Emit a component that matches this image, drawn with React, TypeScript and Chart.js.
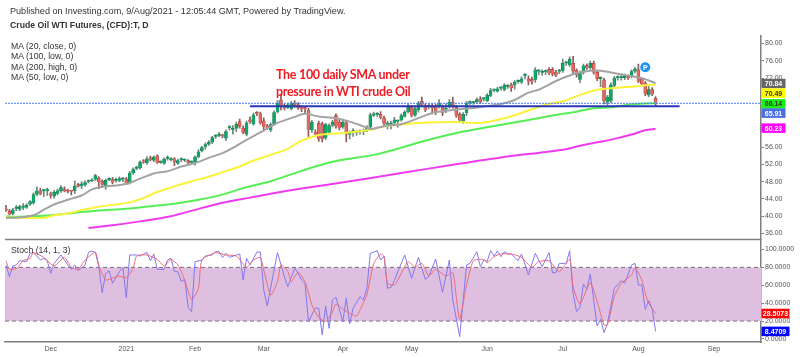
import React, { useEffect, useRef } from "react";
import { Chart, registerables } from "chart.js";

Chart.register(...registerables);

const opens = [
  41.55,41.1,40.5,41.7,41.55,42,42,42.7,43,45,
  45.9,45.8,45.8,45.2,44.6,45.2,45.8,46.3,45.9,45.8,
  45.9,47.3,47,47.2,47.9,48.1,48.5,48.8,48.1,46.8,
  48.4,48.5,48.2,48.2,48.5,48.6,47.7,50,51,51.1,
  52.8,52.3,53.5,52.9,54,52.4,52.2,53.3,53,53.3,
  52.2,53,52.9,52.9,52.4,52.3,53.7,55.1,56.1,56.6,
  57.1,58.4,58.6,58.7,58,60.4,60,60.3,61.9,60.4,
  58.9,62.3,61.3,63.8,63.7,62.1,60.9,59.9,61.2,64.2,
  66.9,65.6,65.1,64.9,66.2,65.8,65.3,64.9,64.6,59.9,
  59.2,61.5,61.4,58.1,59.4,61,63.3,61.8,60.6,61.6,
  58.9,59.3,59.3,59.5,59.5,59.9,60.6,63.3,63.5,63.6,
  62.8,61.2,60.8,61.6,61.9,62.2,63.1,64.1,65.2,63.3,
  64.6,66.6,65.6,65.3,65.4,65.4,65.4,65.4,64.7,65.4,
  66.4,65.2,63.6,61.9,63.9,66.2,66.2,66.4,67.2,67.1,
  66.7,67.9,69.1,68.9,69.6,69.3,70,70.4,70.3,71.1,
  71,72.5,71.8,71.7,71.6,73.5,73.2,73.4,74,74,
  73.4,73.5,73.7,75.4,75,75.4,73.7,71.6,73.3,74.9,
  74.3,75.4,73.3,71.8,71.6,66.3,66.6,70.2,72,72,
  72,72.3,72.3,73.5,73.9,71.7,70.8,68,69.3,67.3,
];
const closes = [
  41.3,40.4,41.5,41.9,42.2,42.1,42.5,43.4,45,45.9,
  45.2,46,45.9,44.8,45.5,45.9,46.6,45.8,45.7,45.7,
  46.9,46.9,47.5,47.8,48.2,48.4,49.4,47.9,47.3,48.3,
  48.5,47.8,48.3,48.7,48.7,47.7,50,50.8,51.2,52.5,
  52.5,53.3,53,53.7,52.4,52.5,53.2,53.5,53.3,52.5,
  52.9,53.05,52.9,52.4,52.4,53.7,54.9,55.9,56.6,57.1,
  58.2,58.5,58.9,58.5,59.6,60.4,60.1,61.3,60.7,59.3,
  61.6,61.8,63.5,63.7,61.6,60.7,60.5,61.2,64,66.2,
  65.4,65,65.8,66.2,65.6,65,64.9,64.8,60,61.8,
  59,57.9,57.9,61.2,61,61.8,60.8,60.4,61.8,58.9,
  59,59.8,59.4,59.6,59.7,60.6,63.5,63.7,63.5,62.8,
  61.4,61.3,61.5,62.3,62,63.3,64.1,65.2,63.3,64.9,
  66.2,65.8,64.6,65.4,65,63.9,66.2,63.9,65,66.4,
  65.4,63.3,62.2,63.6,66.2,66.3,66.3,67,66.4,67.1,
  68,69.1,69.2,69.5,69.6,70.3,70,69.7,71,71.2,
  71.8,72.5,71.2,71.2,73.9,73.5,73.3,73.5,73.1,72.9,
  72.6,73.5,75.4,75.5,76.3,73.5,72.7,73.1,74.8,74.3,
  75.4,73.3,71.8,71.9,66.6,67.6,70.4,72,72.1,72,
  72.4,72,73.5,74.1,71.2,70.6,68.3,69.3,68.3,66.2,
];
const highs = [
  42.5,41.6,41.8,42.5,42.6,42.9,42.9,43.6,45.4,46.8,
  46.5,46.2,46.5,45.6,46,46.3,47.1,46.8,46.2,46,
  48.2,47.6,48,48.2,48.4,48.7,49.7,49.2,48.4,48.6,
  48.9,49,48.8,49.1,49,49,50.4,51.2,51.6,52.8,
  53.1,53.8,53.9,54,54.2,52.8,53.5,54,53.6,53.6,
  53.2,53.5,53.3,53.1,52.8,54,55.4,56.2,57,57.5,
  58.5,58.9,59.4,59,60,61,61,61.8,62.5,60.9,
  62,63,63.9,64.2,64.1,62.8,61.3,61.6,64.4,66.8,
  68.3,66,66.2,66.6,66.8,66.3,65.6,65.2,65,62.2,
  60,62,61.8,61.5,61.4,62.2,63.7,62.3,62.2,62,
  59.7,60.3,59.8,60,60.2,61,63.9,64.1,64,64.2,
  63.2,62,62,62.9,62.3,63.7,64.4,66,65.7,65.3,
  66.6,67.6,66,66,66,65.9,67,65.8,66,67,
  67.6,65.6,64,64,66.6,66.7,66.6,67.4,67.7,67.4,
  68.4,69.6,69.5,69.9,70,70.7,70.5,70.8,71.4,71.6,
  72.3,73,72.5,72.2,74.4,74,73.9,73.9,74.4,74.4,
  73.8,74,76.4,75.9,76.9,77,74.1,73.6,75.2,75.3,
  75.9,75.9,73.8,72.3,72,68,70.9,72.4,72.5,72.6,
  72.9,72.7,73.9,74.5,75.2,72.1,71.2,70.4,69.8,67.7,
];
const lows = [
  41.1,40.3,40.3,41.3,41.3,41.5,41.8,42.5,42.8,44.7,
  44.9,44.5,44.8,44.2,44.2,44.9,45.5,45.6,45.4,44.9,
  45.2,46.7,46.4,46.9,47.7,48,48.3,46.4,46.6,46.2,
  48.2,47.5,47.9,48,48,47.4,47.5,49.7,50.8,50.9,
  52.2,52,52.8,52.6,52.2,52.2,52,53,52.8,51.7,
  52,52.6,52.6,52.1,52.1,51.8,53.5,54.9,55.5,56.4,
  56.8,58,58.4,58.1,57.5,59.9,59,59.6,60.4,59.1,
  58.6,61.5,61.1,63.3,61.3,60,60.1,59.6,61,63.9,
  64.6,64.6,64.9,64.6,65.2,64.7,64.2,64,58.5,59.4,
  58.7,57.3,57.2,57.7,59,60.7,60.4,60,60.3,57.2,
  57.9,58.5,58.7,59,58.9,59.6,60.3,63.1,63.1,62.5,
  61,60.2,60.2,61.4,60.6,62,62.9,63.9,63,63.1,
  64.1,65.4,64.2,64.9,63.7,63.5,65,63.3,64,65,
  65,62.9,61.8,61.5,63.3,65.9,65.9,66.2,66.1,66.7,
  66.5,67.7,68.8,68.7,69.2,69,69.6,68.9,69.4,70.8,
  70.7,71.8,70.4,70.6,71,72.8,72.6,72.8,72.8,72.5,
  72.3,73,73.3,74.9,74.7,73,72.2,70.9,72.9,74,
  74,72.9,71.4,70,66,65.8,66.3,69.8,71.5,71.5,
  71.6,71.7,72,73.2,70.9,70.2,67.9,67.7,67.9,65.5,
];

const ma20Index = [0,4,8,11,14,18,22,25,28,32,36,39,43,47,51,55,59,63,66,70,74,79,84,87,91,96,100,104,106,111,115,120,124,129,135,139,144,148,152,155,159,162,166,170,173,176,180,183,186,189];
const ma20Values = [39.6,39.7,40.2,41.5,42.7,43.8,44.8,46.2,46.8,47.1,47.7,48.7,49.9,50.4,51.5,52.3,53.5,54.6,55.8,57.7,59.4,61.6,63,63.7,63.1,62.7,61.9,60.8,60.2,61,61.3,62.7,63.9,64.5,65,65.4,66,66.9,68.6,69.3,70.9,72,73.1,73.7,73.7,73.3,72.7,72.3,71.7,70.84];
const ma50Index = [0,8,11,14,18,22,27,32,36,40,44,49,54,58,63,68,72,77,82,85,88,92,99,106,110,116,123,131,138,145,151,157,162,167,172,177,182,186,189];
const ma50Values = [39.7,39.6,39.6,40.2,40.6,41.4,42.2,42.7,43.2,44.2,45.6,46.9,48.1,48.9,50.2,51.5,52.9,54.2,55.6,57.1,58.1,58.9,59.3,60,60.8,61.3,61.7,61.8,61.6,62.7,64.2,65.8,66.6,68.1,69.3,69.7,70,70.3,70.49];
const ma100Index = [0,6,13,20,27,35,42,49,56,63,69,77,86,95,107,113,123,133,142,152,162,166,171,176,182,186,189];
const ma100Values = [39.9,39.9,40.2,40.8,41.3,41.7,42.3,42.9,43.8,45,46.5,48.1,50.5,52.6,54.2,55.4,57.7,59.6,60.9,62.3,63.7,64.2,65,65.2,65.9,66.1,66.14];
const ma200Index = [24,31,39,48,56,63,71,77,86,101,115,130,144,162,167,172,177,182,186,189];
const ma200Values = [37.3,37.9,38.8,40,41.7,43.1,44.3,45.2,46.4,48.2,50,51.9,53.6,55.4,56.3,57.1,57.9,58.9,59.9,60.23];

const stochKIndex = [0,1,2,3,4,6,7,8,10,11,12,13,14,16,18,19,20,21,23,24,25,26,27,28,29,30,31,33,34,35,36,38,39,41,42,43,44,46,47,48,49,50,51,52,53,54,55,57,58,60,61,62,63,64,65,68,69,70,71,73,74,75,76,78,79,81,82,84,85,86,87,88,90,91,92,93,94,95,96,98,99,100,101,103,104,105,106,108,109,110,111,112,113,114,116,118,120,122,123,125,127,129,130,132,134,135,137,138,139,140,141,142,143,144,145,146,147,149,150,152,154,156,158,159,160,161,163,164,165,166,167,168,169,170,172,173,174,175,177,179,180,182,183,184,185,186,187,188,189];
const stochKValues = [82.7,69.6,81.6,82.7,87.5,86.4,95.7,96.5,88.3,90.1,87.5,73.4,84.5,93.9,82.7,77.8,82.7,76.4,82.7,96.8,98.3,96.8,80.8,51.8,73.4,76,62.2,75.2,80.1,46.2,93.9,93.9,92.7,96.8,87.5,95,77.8,77.8,88.3,90.1,75.2,75.2,64.1,66.7,35.4,30.6,86.4,88.3,92.7,93.9,97.6,97.6,91.2,95.7,91.2,95,65.9,90.1,82.7,97.2,97.2,54.8,36.9,77.1,96.5,69.6,58.5,79,73.4,65.9,62.2,19.4,34.3,34.3,4.5,36.9,11.9,43.6,46.6,19.4,45.4,16.8,34.3,47.3,43.6,56.6,95.7,98.7,88.3,92.7,56.6,57.7,65.2,75.2,93.9,67.8,91.2,66.7,69.6,89.4,52.1,88.3,43.6,2.6,82.7,84.5,97.6,80.8,88.3,86.4,98.7,92.7,98.3,92,97.6,95,95,87.5,95,71.5,95.7,80.8,96.5,74.1,74.1,84.5,84.5,98.7,51,30.6,35.4,61.5,55.5,72.6,14.5,22,7.1,17.5,56.6,65.2,62.2,82.7,84.5,60.3,60.3,33.2,42.8,34.3,8.4709];
const stochDIndex = [0,1,3,5,7,8,11,14,17,19,21,23,26,27,29,32,33,35,37,38,41,44,46,48,50,52,54,56,57,61,64,67,70,72,74,75,77,79,80,82,83,85,87,89,91,93,95,96,98,100,102,104,105,107,109,110,111,113,114,117,119,121,123,125,128,130,131,132,134,136,139,140,142,144,147,150,153,155,158,161,164,165,167,170,172,174,175,177,179,182,183,185,186,187,189];
const stochDValues = [87.5,77.8,78.6,87.5,90.1,96.5,91.2,81.6,91.2,80.1,77.8,88.3,96.8,82.7,65.9,69.6,70.4,68.5,79,92.7,93.9,89,81.6,89,82.7,65.9,44.3,56.6,88.3,96.5,93.9,92.7,80.1,88.3,91.2,77.1,49.2,64.1,82.7,75.2,64.1,74.5,64.1,38,24.2,19.4,30.6,39.1,33.2,28.7,25.7,40.6,49.2,84.5,95,92,62.2,60.3,65.9,86.4,80.1,84.5,70.4,77.8,70.4,74.1,47.3,22,60.3,87.5,89,85.3,92,95,95,91.2,80.1,86.4,87.5,75.2,89,58.5,39.1,62.9,41.7,15.7,15.7,47.3,62.2,71.5,80.1,65.9,51,39.9,28.5073];

const priceTicks = [36,40,44,48,52,56,60,64,68,72,76,80];
const stochTicks = [0,20,40,60,80,100];
const dateIndex = [13,35,55,75,98,118,140,162,184,206];
const dateLabels = ["Dec","2021","Feb","Mar","Apr","May","Jun","Jul","Aug","Sep"];
const supportLevel = 65.45;
const lastPriceLevel = 66.14;
const publishMarkIndex = 186;
const publishMarkPrice = 74.5;

const priceTags = [
  { text: "70.84", value: 70.84, nudge: 0.5, bg: "#666666", fg: "#ffffff" },
  { text: "70.49", value: 70.49, nudge: 8.6, bg: "#ffff00", fg: "#333333" },
  { text: "66.14", value: 66.14, nudge: 0.5, bg: "#19f219", fg: "#333333" },
  { text: "65.91", value: 65.91, nudge: 8.8, bg: "#4a6fe3", fg: "#ffffff" },
  { text: "60.23", value: 60.23, nudge: -0.7, bg: "#ff00ff", fg: "#ffffff" },
];
const stochTags = [
  { text: "28.5073", value: 28.5073, nudge: 0, bg: "#ff0000", fg: "#ffffff" },
  { text: "8.4709", value: 8.4709, nudge: 0, bg: "#0000ff", fg: "#ffffff" },
];

const X_MIN = -0.29;
const X_MAX = 219.67;
const AXIS = "#7f7f7f";
const TICK_TEXT = "#555555";
const FONT = "'Liberation Sans', Arial, sans-serif";
const TICK_SIZE = 7;

function zip(xs: number[], ys: number[]) {
  return xs.map((x, i) => ({ x, y: ys[i] }));
}

const overlay = {
  id: "overlay",
  afterDraw(chart: any) {
    const { ctx, scales, chartArea } = chart;
    ctx.save();
    ctx.strokeStyle = AXIS;
    ctx.lineWidth = 1.5;
    ctx.beginPath();
    ctx.moveTo(chartArea.left, scales.y.bottom);
    ctx.lineTo(chartArea.right, scales.y.bottom);
    ctx.stroke();
    const px = scales.x.getPixelForValue(publishMarkIndex);
    const py = scales.y.getPixelForValue(publishMarkPrice);
    ctx.fillStyle = "#ffffff";
    ctx.font = `bold 7px ${FONT}`;
    ctx.textAlign = "center";
    ctx.textBaseline = "middle";
    ctx.fillText("P", px, py + 0.5);
    const draw = (tags: any[], scale: any, w: number) => {
      ctx.font = `bold ${TICK_SIZE}px ${FONT}`;
      tags.forEach((t) => {
        const y = scale.getPixelForValue(t.value) + t.nudge;
        ctx.fillStyle = t.bg;
        ctx.fillRect(scale.left + 0.5, y - 4.75, w, 9.5);
        ctx.fillStyle = t.fg;
        ctx.textAlign = "center";
        ctx.fillText(t.text, scale.left + 0.5 + w / 2, y + 0.5);
      });
    };
    draw(priceTags, scales.y, 24);
    draw(stochTags, scales.y2, 28);
    ctx.restore();
  },
};

const textStyle = (top: number, left: number, extra: any = {}) => ({
  position: "absolute" as const,
  top,
  left,
  font: `8.7px ${FONT}`,
  lineHeight: "12px",
  color: "#333333",
  whiteSpace: "nowrap" as const,
  ...extra,
});

export default function App() {
  const ref = useRef<HTMLCanvasElement>(null);
  useEffect(() => {
    const n = opens.length;
    const up = (i: number) => closes[i] >= opens[i];
    const ma = (label: string, xs: number[], ys: number[], color: string, order: number, w = 2) => ({
      type: "line" as const,
      label,
      data: zip(xs, ys),
      borderColor: color,
      borderWidth: w,
      pointRadius: 0,
      tension: 0.25,
      yAxisID: "y",
      order,
    });
    const axisTicks = (callback: any) => ({
      autoSkip: false,
      padding: 1,
      color: TICK_TEXT,
      font: { family: FONT, size: TICK_SIZE },
      callback,
    });
    const chart = new Chart(ref.current!, {
      type: "bar",
      plugins: [overlay],
      data: {
        datasets: [
          {
            type: "line",
            label: "band",
            data: [{ x: X_MIN, y: 80 }, { x: X_MAX, y: 80 }],
            borderColor: "#7a6a7a",
            borderWidth: 1,
            borderDash: [4, 3],
            backgroundColor: "#dfbfe0",
            fill: { value: 20 },
            pointRadius: 0,
            yAxisID: "y2",
            order: 30,
          },
          {
            type: "line",
            label: "low band",
            data: [{ x: X_MIN, y: 20 }, { x: X_MAX, y: 20 }],
            borderColor: "#7a6a7a",
            borderWidth: 1,
            borderDash: [4, 3],
            pointRadius: 0,
            yAxisID: "y2",
            order: 29,
          },
          {
            type: "line",
            label: "%K",
            data: zip(stochKIndex, stochKValues),
            borderColor: "#8278ee",
            borderWidth: 1,
            pointRadius: 0,
            yAxisID: "y2",
            order: 5,
          },
          {
            type: "line",
            label: "%D",
            data: zip(stochDIndex, stochDValues),
            borderColor: "#ef6a78",
            borderWidth: 1,
            pointRadius: 0,
            tension: 0.2,
            yAxisID: "y2",
            order: 4,
          },
          {
            type: "bar",
            label: "wick",
            data: Array.from({ length: n }, (_, i) => ({ x: i, y: [lows[i], highs[i]] })),
            backgroundColor: Array.from({ length: n }, (_, i) => (up(i) ? "#6f8a7c" : "#8a5a5a")),
            barThickness: 1,
            grouped: false,
            yAxisID: "y",
            order: 20,
          } as any,
          {
            type: "bar",
            label: "body",
            data: Array.from({ length: n }, (_, i) => ({ x: i, y: [opens[i], closes[i]] })),
            backgroundColor: Array.from({ length: n }, (_, i) => (up(i) ? "#0ea968" : "#e8675f")),
            borderColor: Array.from({ length: n }, (_, i) => (up(i) ? "#1f6b4a" : "#8f3a36")),
            borderWidth: 0.5,
            barThickness: 3,
            minBarLength: 1.5,
            grouped: false,
            yAxisID: "y",
            order: 19,
          } as any,
          ma("MA (200, high, 0)", ma200Index, ma200Values, "#ee3bee", 13),
          ma("MA (100, low, 0)", ma100Index, ma100Values, "#55ee55", 12),
          ma("MA (50, low, 0)", ma50Index, ma50Values, "#fbf23c", 11),
          ma("MA (20, close, 0)", ma20Index, ma20Values, "#a3a3a3", 10),
          {
            type: "line",
            label: "last",
            data: [{ x: X_MIN, y: lastPriceLevel }, { x: X_MAX, y: lastPriceLevel }],
            borderColor: "#4d7cf5",
            borderWidth: 1,
            borderDash: [2, 1],
            pointRadius: 0,
            yAxisID: "y",
            order: 3,
          },
          {
            type: "line",
            label: "support",
            data: [{ x: 71, y: supportLevel }, { x: 196, y: supportLevel }],
            borderColor: "#2a38b8",
            borderWidth: 2,
            pointRadius: 0,
            yAxisID: "y",
            order: 2,
          },
          {
            type: "line",
            label: "publish",
            data: [{ x: publishMarkIndex, y: publishMarkPrice }],
            showLine: false,
            pointRadius: 5,
            pointBackgroundColor: "#1e96f0",
            pointBorderWidth: 0,
            yAxisID: "y",
            order: 1,
          },
        ] as any,
      },
      options: {
        animation: false,
        responsive: false,
        layout: { padding: { left: 5, top: 36, right: 0, bottom: 0 } },
        plugins: { legend: { display: false }, tooltip: { enabled: false } },
        scales: {
          x: {
            type: "linear",
            min: X_MIN,
            max: X_MAX,
            offset: false,
            afterBuildTicks: (s: any) => {
              s.ticks = dateIndex.map((value) => ({ value }));
            },
            afterFit: (s: any) => {
              s.height = 15;
            },
            grid: { drawOnChartArea: false, drawTicks: false },
            border: { color: AXIS, width: 1.5 },
            ticks: {
              ...axisTicks((v: any) => dateLabels[dateIndex.indexOf(Number(v))] ?? ""),
              maxRotation: 0,
              padding: 3,
            },
          },
          y: {
            type: "linear",
            position: "right",
            stack: "panes",
            stackWeight: 203.5,
            min: 34.6,
            max: 81.73,
            afterBuildTicks: (s: any) => {
              s.ticks = priceTicks.map((value) => ({ value }));
            },
            afterFit: (s: any) => {
              s.width = 39;
            },
            grid: { drawOnChartArea: false, drawTicks: true, tickLength: 3, color: AXIS },
            border: { color: AXIS, width: 1.5 },
            ticks: axisTicks((v: any) => Number(v).toFixed(2)),
          },
          y2: {
            type: "linear",
            position: "right",
            stack: "panes",
            stackWeight: 102.5,
            min: -3.4,
            max: 111.2,
            afterBuildTicks: (s: any) => {
              s.ticks = stochTicks.map((value) => ({ value }));
            },
            afterFit: (s: any) => {
              s.width = 39;
            },
            grid: { drawOnChartArea: false, drawTicks: true, tickLength: 3, color: AXIS },
            border: { color: AXIS, width: 1.5 },
            ticks: axisTicks((v: any) => Number(v).toFixed(4)),
          },
        },
      } as any,
    });
    return () => chart.destroy();
  }, []);

  return (
    <div style={{ position: "absolute", left: 0, top: 0, width: 800, height: 357, overflow: "hidden", background: "#fff" }}>
      <canvas ref={ref} width={800} height={357} style={{ position: "absolute", left: 0, top: 0, width: 800, height: 357 }} />
      <div style={textStyle(5, 10, { fontSize: "9.1px" })}>Published on Investing.com, 9/Aug/2021 - 12:05:44 GMT, Powered by TradingView.</div>
      <div style={textStyle(19, 10, { fontWeight: "bold" })}>Crude Oil WTI Futures, (CFD):T, D</div>
      <div style={textStyle(40, 11)}>MA (20, close, 0)</div>
      <div style={textStyle(50, 11)}>MA (100, low, 0)</div>
      <div style={textStyle(60.5, 11)}>MA (200, high, 0)</div>
      <div style={textStyle(71, 11)}>MA (50, low, 0)</div>
      <div style={textStyle(244, 11)}>Stoch (14, 1, 3)</div>
      <div style={textStyle(67, 276, { font: `bold 12.5px Lato, sans-serif`, lineHeight: "16.7px", letterSpacing: "-0.3px", color: "#ee1c25" })}>
        The 100 daily SMA under
        <br />
        pressure in WTI crude Oil
      </div>
    </div>
  );
}
